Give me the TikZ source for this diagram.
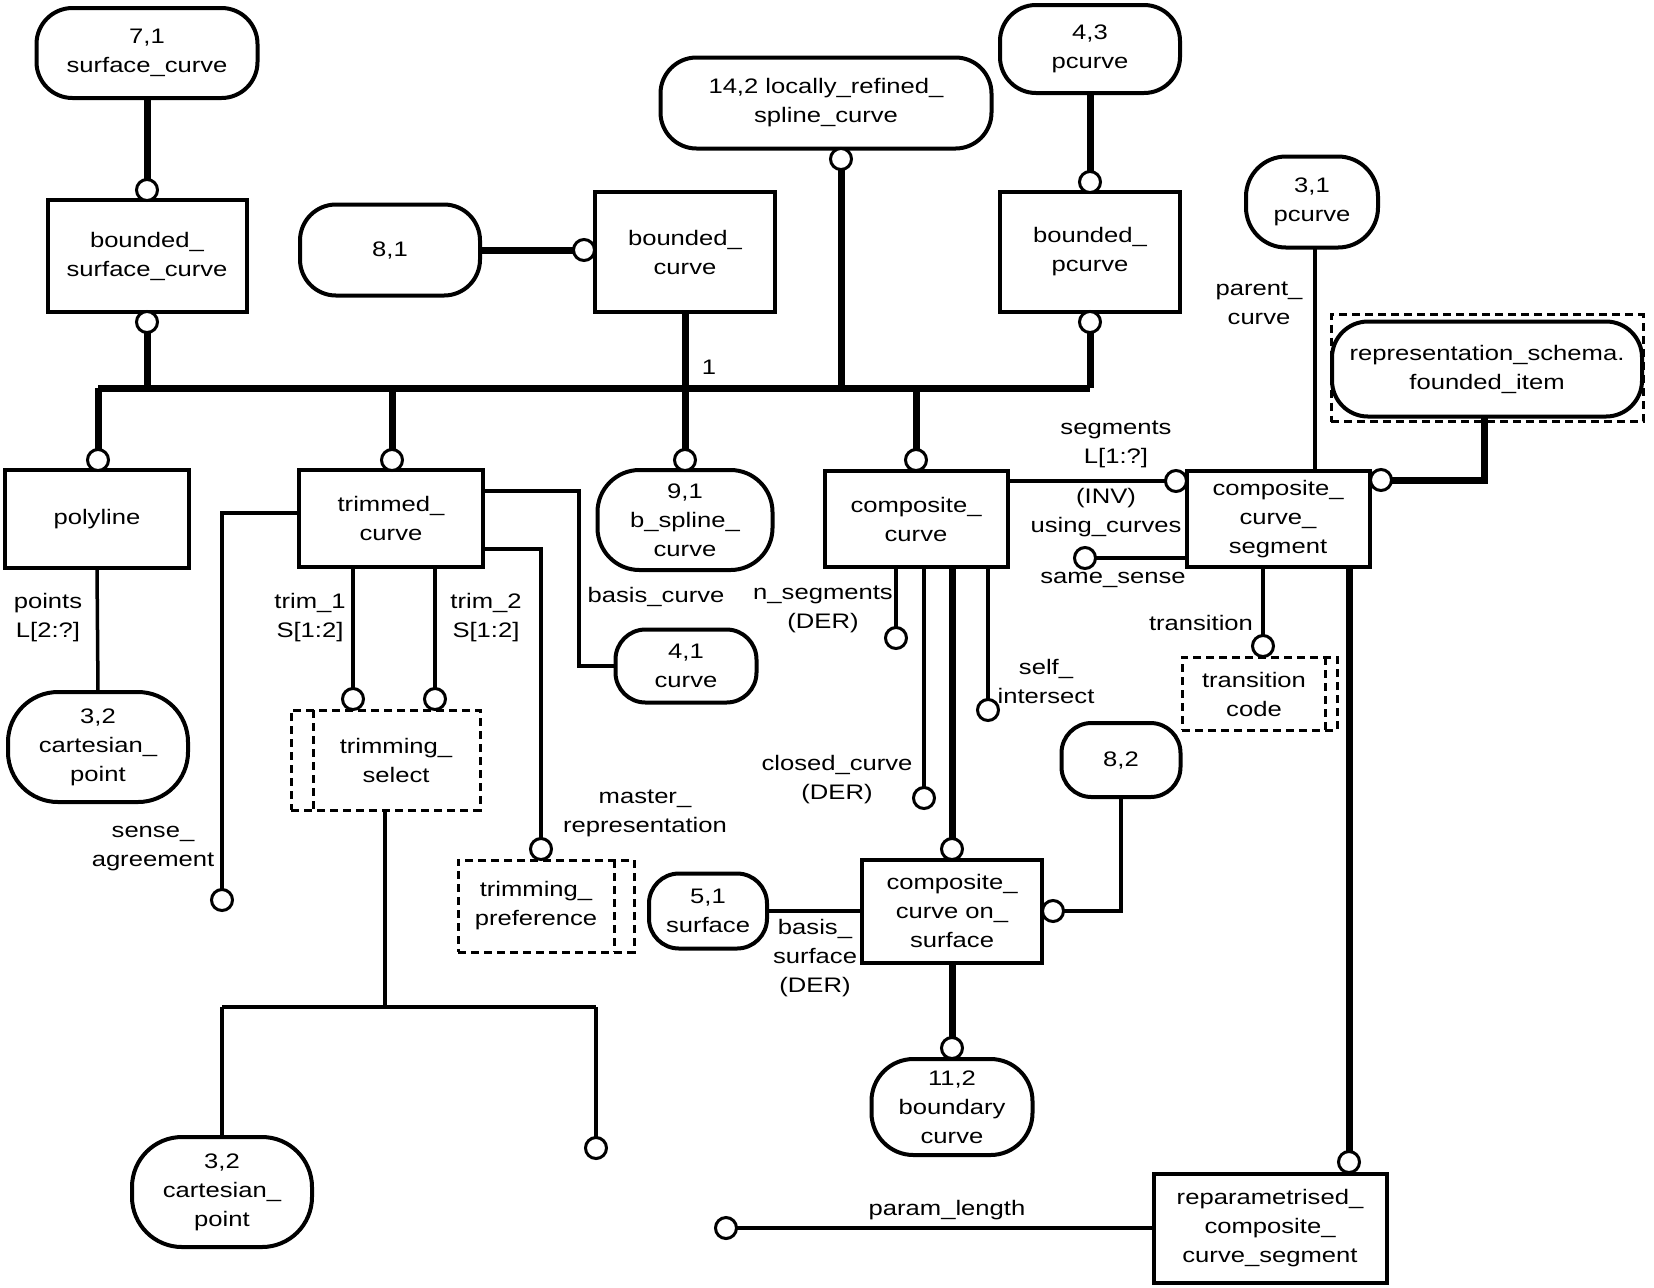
\documentclass[tikz,border=0pt]{standalone}
\usepackage{fontspec}
\setmainfont{Liberation Sans}[FakeStretch=1.22]
\begin{document}
\begin{tikzpicture}[x=0.5pt,y=-0.5pt,
  every node/.style={font=\fontsize{10.5}{14.5}\selectfont, align=center, inner sep=0pt, outer sep=0pt},
  ent/.style={draw, line width=2pt, rectangle},
  refn/.style={draw, line width=2pt, rounded corners=18pt},
  circ/.style={draw, circle, line width=1.5pt, minimum size=10.5pt, fill=white},
  thk/.style={line width=3.5pt},
  thn/.style={line width=1.75pt},
  typ/.style={draw, dash pattern=on 4pt off 2.5pt, line width=1.5pt, rectangle},
  typline/.style={dash pattern=on 4pt off 2.5pt, line width=1.5pt}
]
\useasboundingbox (0,0) rectangle (1654,1287);

% ---------- reference ovals ----------
\node[refn, minimum width=110.5pt, minimum height=45pt] (r71) at (147,53) {7,1\\surface\_curve};
\node[refn, minimum width=90pt, minimum height=45.5pt] (r81) at (390,250) {8,1};
\node[refn, minimum width=165.5pt, minimum height=45.5pt] (r142) at (826,103) {14,2 locally\_refined\_\\spline\_curve};
\node[refn, minimum width=90pt, minimum height=44pt] (r43) at (1090,49) {4,3\\pcurve};
\node[refn, minimum width=66pt, minimum height=45.5pt, rounded corners=20pt] (r31) at (1312,202) {3,1\\pcurve};
\node[typ, minimum width=156pt, minimum height=53.5pt] (fiframe) at (1487,368) {};
\node[refn, minimum width=155pt, minimum height=47.5pt] (rfi) at (1487,369) {representation\_schema.\\founded\_item};
\node[refn, minimum width=87.5pt, minimum height=50pt, rounded corners=21pt] (r91) at (685,520) {9,1\\b\_spline\_\\curve};
\node[refn, minimum width=70.5pt, minimum height=36.5pt, rounded corners=15pt] (r41) at (686,666) {4,1\\curve};
\node[refn, minimum width=90pt, minimum height=55pt, rounded corners=25pt] (r32a) at (98,747) {3,2\\cartesian\_\\point};
\node[refn, minimum width=90pt, minimum height=55pt, rounded corners=25pt] (r32b) at (222,1192) {3,2\\cartesian\_\\point};
\node[refn, minimum width=59pt, minimum height=37.5pt, rounded corners=15pt] (r51) at (708,911) {5,1\\surface};
\node[refn, minimum width=59.5pt, minimum height=37pt, rounded corners=15pt] (r82) at (1121,760) {8,2};
\node[refn, minimum width=80.5pt, minimum height=48pt, rounded corners=21pt] (r112) at (952,1107) {11,2\\boundary\\curve};

% ---------- entities ----------
\node[ent, minimum width=99.5pt, minimum height=56pt] (bsc) at (147,256) {bounded\_\\surface\_curve};
\node[ent, minimum width=90pt, minimum height=60pt] (bc) at (685,252) {bounded\_\\curve};
\node[ent, minimum width=90pt, minimum height=60pt] (bpc) at (1090,252) {bounded\_\\pcurve};
\node[ent, minimum width=92pt, minimum height=49pt] (poly) at (97,519) {polyline};
\node[ent, minimum width=92pt, minimum height=48.5pt] (tc) at (391,518) {trimmed\_\\curve};
\node[ent, minimum width=91.5pt, minimum height=48pt] (cc) at (916,519) {composite\_\\curve};
\node[ent, minimum width=91.5pt, minimum height=48pt] (ccs) at (1278,519) {composite\_\\curve\_\\segment};
\node[ent, minimum width=90pt, minimum height=51.5pt] (ccos) at (952,911) {composite\_\\curve on\_\\surface};
\node[ent, minimum width=116.5pt, minimum height=54.5pt] (rccs) at (1270,1228) {reparametrised\_\\composite\_\\curve\_segment};

% ---------- defined types ----------
\node[typ, minimum width=94.5pt, minimum height=50pt] (ts) at (385.5,760) {};
\draw[typline] ([xshift=11pt]ts.north west) -- ([xshift=11pt]ts.south west);
\node (tstext) at (396,760) {trimming\_\\select};
\node[typ, minimum width=88pt, minimum height=46pt] (tp) at (546,906) {};
\draw[typline] ([xshift=-10pt]tp.north east) -- ([xshift=-10pt]tp.south east);
\node (tptext) at (536,906) {trimming\_\\preference};
\node[typ, minimum width=77.5pt, minimum height=36.5pt] (tcode) at (1259.5,693.5) {};
\draw[typline] ([xshift=-6pt]tcode.north east) -- ([xshift=-6pt]tcode.south east);
\node (tcodetext) at (1254,694) {transition\\code};

% ---------- circles ----------
\node[circ] (cbsct) at (147,190) {};
\node[circ] (cbscb) at (147,322) {};
\node[circ] (cbcl) at (584,250) {};
\node[circ] (c142) at (841,159) {};
\node[circ] (cbpct) at (1090,182) {};
\node[circ] (cbpcb) at (1090,322) {};
\node[circ] (cpoly) at (98,460) {};
\node[circ] (ctc) at (392,460) {};
\node[circ] (c91) at (685,460) {};
\node[circ] (ccc) at (916,460) {};
\node[circ] (ct1) at (353,699) {};
\node[circ] (ct2) at (435,699) {};
\node[circ] (csense) at (222,900) {};
\node[circ] (cmaster) at (541,849) {};
\node[circ] (cccost) at (952,849) {};
\node[circ] (cnseg) at (896,638) {};
\node[circ] (cclosed) at (924,798) {};
\node[circ] (cself) at (988,710) {};
\node[circ] (cseg) at (1176,481) {};
\node[circ] (cccsr) at (1381,480) {};
\node[circ] (csame) at (1085,558) {};
\node[circ] (ctrans) at (1263,646) {};
\node[circ] (cccosr) at (1053,911) {};
\node[circ] (c112) at (952,1048) {};
\node[circ] (crccs) at (1349,1162) {};
\node[circ] (cparam) at (726,1228) {};
\node[circ] (ctsel) at (596,1148) {};

% ---------- bend coordinates ----------
\coordinate (busL) at (98,388);
\coordinate (busR) at (1090,388);
\coordinate (sa) at (222,513);
\coordinate (bcA) at (579,491);
\coordinate (bcB) at (579,666);
\coordinate (mr) at (541,549);
\coordinate (tsj) at (385,1007);
\coordinate (tsL) at (222,1007);
\coordinate (tsR) at (596,1007);
\coordinate (fiA) at (1484,480);
\coordinate (b82) at (1121,911);
\coordinate (sam) at (1187,558);
\coordinate (pcTop) at (1315,248);

% ---------- thick connectors ----------
\draw[thk] (busL) -- (busR);
\draw[thk] (r71.south) -- (cbsct.north);
\draw[thk] (cbscb.south) -- (cbscb.south |- busL);
\draw[thk] (r81.east) -- (cbcl.west);
\draw[thk] (bc.south) -- (c91.north);
\draw[thk] (c142.south) -- (c142.south |- busL);
\draw[thk] (r43.south) -- (cbpct.north);
\draw[thk] (cbpcb.south) -- (busR);
\draw[thk] (busL) -- (cpoly.north);
\draw[thk] (ctc.north |- busL) -- (ctc.north);
\draw[thk] (ccc.north |- busL) -- (ccc.north);
\draw[thk] (cccost.north |- cc.south) -- (cccost.north);
\draw[thk] (ccos.south) -- (c112.north);
\draw[thk] (crccs.north |- ccs.south) -- (crccs.north);
\draw[thk] (cccsr.east) -- (fiA) -- (fiA |- rfi.south);

% ---------- thin connectors ----------
\draw[thn] (poly.south) -- (r32a.north);
\draw[thn] (tc.west |- sa) -- (sa) -- (csense.north);
\draw[thn] (tc.east |- bcA) -- (bcA) -- (bcB) -- (r41.west);
\draw[thn] (tc.east |- mr) -- (mr) -- (cmaster.north);
\draw[thn] (ct1.north |- tc.south) -- (ct1.north);
\draw[thn] (ct2.north |- tc.south) -- (ct2.north);
\draw[thn] (tsj |- ts.south) -- (tsj);
\draw[thn] (tsL) -- (tsR);
\draw[thn] (tsL) -- (r32b.north);
\draw[thn] (tsR) -- (ctsel.north);
\draw[thn] (cc.east |- cseg) -- (cseg.west);
\draw[thn] (sam) -- (csame.east);
\draw[thn] (ctrans.north |- ccs.south) -- (ctrans.north);
\draw[thn] (pcTop |- r31.south) -- (pcTop |- ccs.north);
\draw[thn] (cnseg.north |- cc.south) -- (cnseg.north);
\draw[thn] (cclosed.north |- cc.south) -- (cclosed.north);
\draw[thn] (cself.north |- cc.south) -- (cself.north);
\draw[thn] (r51.east) -- (ccos.west);
\draw[thn] (cccosr.east) -- (b82) -- (r82.south);
\draw[thn] (rccs.west) -- (cparam.east);

% ---------- labels ----------
\node (l1) at (709,367) {1};
\node (lpoints) at (48,618) {points\\L[2:?]};
\node (ltrim1) at (310,618) {trim\_1\\S[1:2]};
\node (ltrim2) at (486,618) {trim\_2\\S[1:2]};
\node (lbasis) at (656,597) {basis\_curve};
\node (lsense) at (153,849) {sense\_\\agreement};
\node (lmaster) at (645,813) {master\_\\representation};
\node (lnseg) at (823,609) {n\_segments\\(DER)};
\node (lclosed) at (837,780) {closed\_curve\\(DER)};
\node (lself) at (1046,681) {self\_\\intersect};
\node (lsegs) at (1116,444) {segments\\L[1:?]};
\node (linv) at (1106,513) {(INV)\\using\_curves};
\node (lsame) at (1113,580) {same\_sense};
\node (ltrans) at (1201,623) {transition};
\node (lparent) at (1259,303) {parent\_\\curve};
\node (lbsurf) at (815,958) {basis\_\\surface\\(DER)};
\node (lparam) at (947,1210) {param\_length};
\end{tikzpicture}
\end{document}
